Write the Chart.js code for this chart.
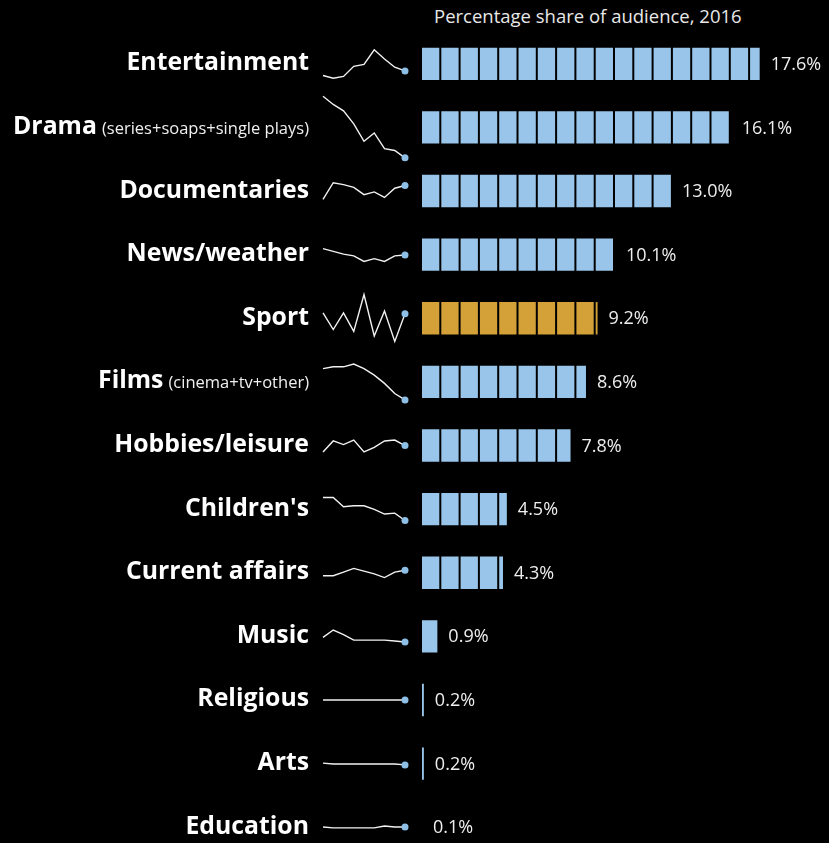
<!DOCTYPE html>
<html>
<head>
<meta charset="utf-8">
<title>Audience share by genre</title>
<script src="https://cdn.jsdelivr.net/npm/chart.js@4.4.0/dist/chart.umd.min.js"></script>
<style>
  html, body { margin: 0; padding: 0; background: #000; }
  body { width: 829px; height: 843px; overflow: hidden; position: relative; font-family: "Open Sans", sans-serif; }
  #titulo { position: absolute; left: 434px; top: 3px; color: #e8e8e8; font-size: 18.5px; white-space: nowrap; }
  #barras { position: absolute; left: 0; top: 32px; }
  .spark { position: absolute; }
</style>
</head>
<body>
  <div id="titulo">Percentage share of audience, 2016</div>
  <canvas id="barras" width="829" height="827"></canvas>

<script>
// genres, biggest first
var generos = ['Entertainment', 'Drama', 'Documentaries', 'News/weather', 'Sport', 'Films',
               'Hobbies/leisure', "Children's", 'Current affairs', 'Music', 'Religious', 'Arts', 'Education'];
var subtitulos = ['', '(series+soaps+single plays)', '', '', '', '(cinema+tv+other)', '', '', '', '', '', '', ''];
// share of audience 2016, %
var share2016 = [17.6, 16.1, 13.0, 10.1, 9.2, 8.6, 7.8, 4.5, 4.3, 0.9, 0.2, 0.2, 0.1];
var destacado = 'Sport';

// yearly share 2008-2016 for the little trend lines
var anios = ['2008', '2009', '2010', '2011', '2012', '2013', '2014', '2015', '2016'];
var tendEntertainment = [17.1, 16.8, 17.0, 18.1, 18.3, 19.9, 18.9, 18.0, 17.6];
var tendDrama         = [22.8, 21.9, 21.2, 19.8, 17.9, 18.8, 17.1, 16.9, 16.1];
var tendDocumentaries = [11.5, 13.3, 13.1, 12.8, 12.0, 12.3, 11.7, 12.7, 13.0];
var tendNews          = [10.8, 10.5, 10.2, 10.0, 9.4, 9.7, 9.4, 10.0, 10.1];
var tendSport         = [9.3, 7.5, 9.3, 7.3, 11.3, 6.8, 9.5, 6.2, 9.2];
var tendFilms         = [12.0, 12.2, 12.2, 12.5, 12.0, 11.3, 10.4, 9.3, 8.6];
var tendHobbies       = [7.1, 8.3, 7.9, 8.4, 7.1, 7.6, 8.3, 8.4, 7.8];
var tendChildrens     = [7.0, 7.0, 6.0, 6.1, 6.1, 5.7, 5.2, 5.3, 4.5];
var tendCurrent       = [3.7, 3.7, 4.1, 4.5, 4.2, 3.9, 3.5, 4.1, 4.3];
var tendMusic         = [1.4, 2.2, 1.7, 1.1, 1.1, 1.1, 1.1, 1.0, 0.9];
var tendReligious     = [0.2, 0.2, 0.2, 0.2, 0.2, 0.2, 0.2, 0.2, 0.2];
var tendArts          = [0.4, 0.3, 0.3, 0.3, 0.3, 0.3, 0.3, 0.3, 0.2];
var tendEducation     = [0.1, 0.0, 0.0, 0.0, 0.0, 0.0, 0.2, 0.1, 0.1];
var tendencias = [tendEntertainment, tendDrama, tendDocumentaries, tendNews, tendSport, tendFilms,
                  tendHobbies, tendChildrens, tendCurrent, tendMusic, tendReligious, tendArts, tendEducation];

var azul = '#98c5e9';
var oro = '#d4a139';
var colores = generos.map(function (g) { return g == destacado ? oro : azul; });

// each bar is cut into 1-point blocks: one stacked dataset per block
var datasets = [];
var maxBloques = Math.ceil(Math.max.apply(null, share2016));
for (var k = 0; k < maxBloques; k++) {
    datasets.push({
        data: share2016.map(function (v) {
            var resto = Math.min(1, v - k);
            return resto > 0 ? resto : null;
        }),
        backgroundColor: colores,
        borderColor: 'rgba(0,0,0,0.75)',
        borderWidth: 1,
        borderSkipped: false,
        barPercentage: 0.54,
        categoryPercentage: 1
    });
}

// category names on the left and the % after each bar
var etiquetas = {
    id: 'etiquetas',
    afterDatasetsDraw: function (chart) {
        var ctx = chart.ctx;
        var xs = chart.scales.x, ys = chart.scales.y;
        ctx.save();
        for (var i = 0; i < generos.length; i++) {
            var y = ys.getPixelForValue(i);
            var derecha = 309;
            ctx.textBaseline = 'alphabetic';
            ctx.textAlign = 'right';
            if (subtitulos[i]) {
                ctx.font = '16.5px "Open Sans", sans-serif';
                ctx.fillStyle = '#f0f0f0';
                ctx.fillText(subtitulos[i], derecha, y + 6.5);
                derecha -= ctx.measureText(subtitulos[i]).width + 5;
            }
            ctx.font = 'bold 24.8px "Open Sans", sans-serif';
            ctx.fillStyle = '#ffffff';
            ctx.fillText(generos[i], derecha, y + 6.5);

            ctx.textAlign = 'left';
            ctx.textBaseline = 'middle';
            ctx.font = '18px "Open Sans", sans-serif';
            ctx.fillStyle = '#eeeeee';
            ctx.fillText(share2016[i].toFixed(1) + '%', xs.getPixelForValue(share2016[i]) + 10, y + 1);
        }
        ctx.restore();
    }
};

var grafBarras = new Chart(document.getElementById('barras').getContext('2d'), {
    type: 'bar',
    data: { labels: generos, datasets: datasets },
    options: {
        indexAxis: 'y',
        responsive: false,
        animation: false,
        layout: { padding: { left: 421, right: 22, top: 0, bottom: 0 } },
        plugins: { legend: { display: false }, tooltip: { enabled: false } },
        scales: {
            x: { stacked: true, min: 0, max: 20, display: false },
            y: { stacked: true, display: false }
        }
    },
    plugins: [etiquetas]
});

// one small line chart per genre, centred on its bar
var altoSpark = 100;
var yEscala = grafBarras.scales.y;
tendencias.forEach(function (serie, i) {
    var c = document.createElement('canvas');
    c.className = 'spark';
    c.width = 92;
    c.height = altoSpark;
    c.style.left = '318px';
    c.style.top = (32 + yEscala.getPixelForValue(i) - altoSpark / 2) + 'px';
    document.body.appendChild(c);

    var medio = (Math.max.apply(null, serie) + Math.min.apply(null, serie)) / 2;
    var radios = serie.map(function (v, j) { return j == serie.length - 1 ? 3.5 : 0; });

    new Chart(c.getContext('2d'), {
        type: 'line',
        data: {
            labels: anios,
            datasets: [{
                data: serie,
                borderColor: '#f2f2f2',
                borderWidth: 1.4,
                pointRadius: radios,
                pointBackgroundColor: '#8ec0e7',
                pointBorderWidth: 0,
                tension: 0,
                clip: false
            }]
        },
        options: {
            responsive: false,
            animation: false,
            layout: { padding: { left: 5, right: 5, top: 0, bottom: 0 } },
            plugins: { legend: { display: false }, tooltip: { enabled: false } },
            scales: {
                x: { display: false, offset: false },
                y: { display: false, min: medio - altoSpark / 20, max: medio + altoSpark / 20 }
            }
        }
    });
});
</script>
</body>
</html>
